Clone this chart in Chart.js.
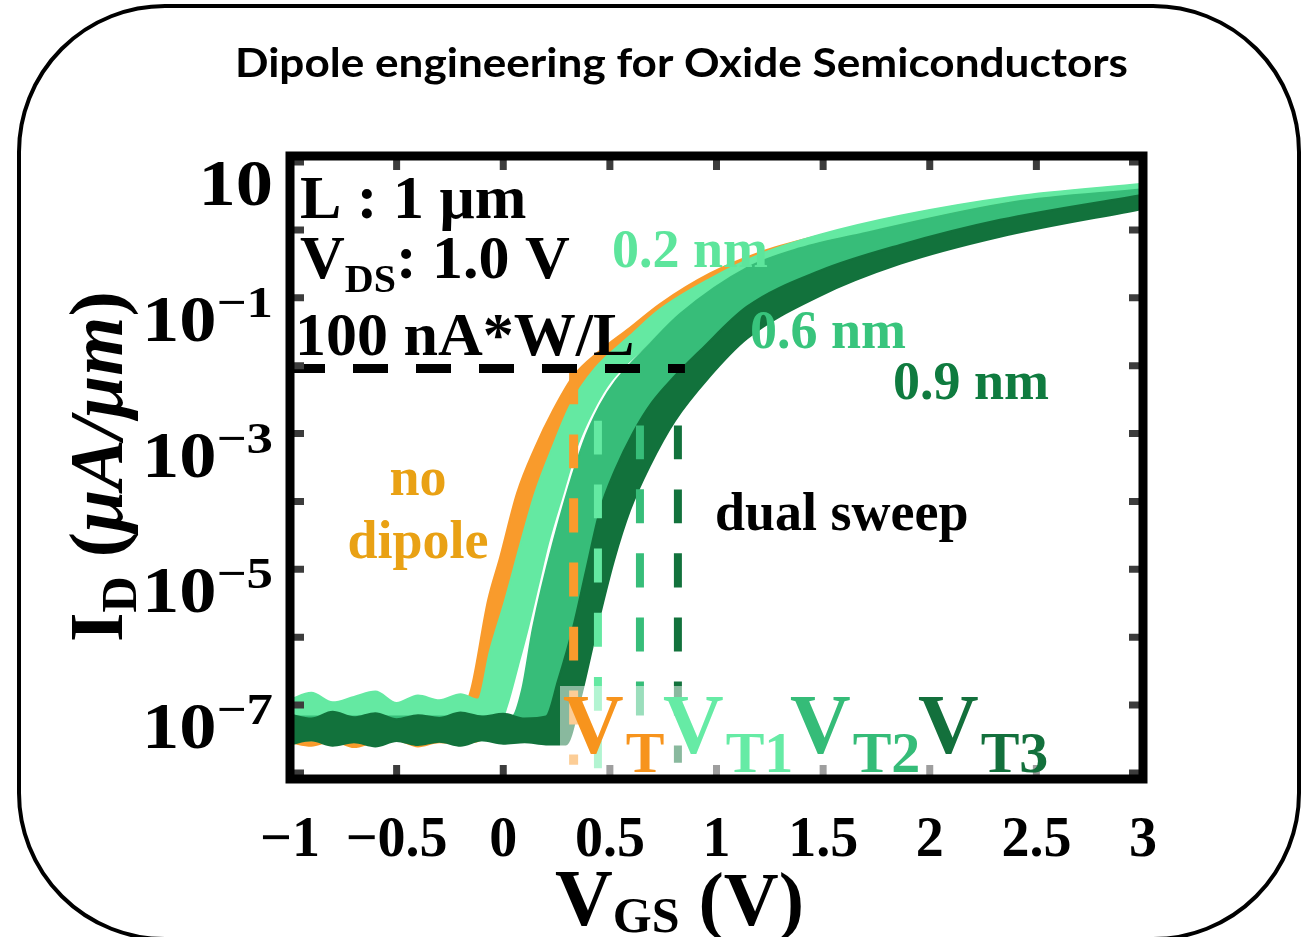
<!DOCTYPE html>
<html>
<head>
<meta charset="utf-8">
<script src="https://cdn.jsdelivr.net/npm/chart.js@4.4.0/dist/chart.umd.min.js"></script>
<style>
html, body { margin: 0; padding: 0; background: #ffffff; }
canvas { display: block; }
</style>
</head>
<body>
<canvas id="ivChart" width="1301" height="937"></canvas>
<script>
// transfer curves, V_GS in volts, log10 of I_D in uA/um
// each device is a dual sweep band: upper/left edge (fwd) and lower/right edge (rev)
const vgsNoDipoleFwd = [-1.0, -0.9, -0.8, -0.7, -0.6, -0.5, -0.4, -0.3, -0.2028, -0.1512, -0.0715, -0.0152, 0.0645, 0.1489, 0.2333, 0.3271, 0.4537, 0.5944, 0.7351, 0.9695, 1.204, 1.4854, 1.8605, 2.3904, 3.0];
const logIdNoDipoleFwd = [-7.10, -7.05, -7.12, -7.08, -7.14, -7.06, -7.11, -7.09, -7.11, -6.78, -5.46, -4.83, -3.88, -3.21, -2.66, -2.16, -1.78, -1.44, -1.09, -0.64, -0.33, -0.08, 0.20, 0.48, 0.67];
const vgsNoDipoleRev = [-1.0, -0.9, -0.8, -0.7, -0.6, -0.5, -0.4, -0.3, -0.2, -0.109, -0.0809, -0.0152, 0.0692, 0.1583, 0.2427, 0.3271, 0.4302, 0.5944, 0.7351, 0.9695, 1.204, 1.4854, 1.8605, 2.3904, 3.0];
const logIdNoDipoleRev = [-7.55, -7.60, -7.53, -7.62, -7.54, -7.52, -7.61, -7.55, -7.56, -7.52, -7.08, -5.86, -4.90, -3.88, -3.18, -2.56, -2.16, -1.67, -1.29, -0.84, -0.48, -0.19, 0.09, 0.37, 0.56];

const vgs02Fwd = [-1.0, -0.9, -0.8, -0.7, -0.6, -0.5, -0.4, -0.3, -0.2, -0.1184, -0.0621, 0.0082, 0.0785, 0.1489, 0.2333, 0.3177, 0.4302, 0.5944, 0.7351, 0.9695, 1.204, 1.4854, 1.8605, 2.3904, 3.0];
const logId02Fwd = [-6.92, -6.82, -6.96, -6.88, -6.80, -6.97, -6.86, -6.93, -6.84, -6.92, -6.20, -5.46, -4.65, -3.88, -3.18, -2.56, -2.04, -1.56, -1.17, -0.72, -0.36, -0.07, 0.21, 0.49, 0.68];
const vgs02Rev = [-1.0, -0.6, -0.2, -0.0152, 0.0176, 0.0692, 0.1161, 0.1629, 0.2098, 0.2802, 0.3505, 0.4255, 0.5053, 0.6647, 0.8288, 1.143, 1.3916, 1.687, 2.3904, 3.0];
const logId02Rev = [-7.26, -7.26, -7.26, -7.26, -7.01, -6.42, -5.86, -5.24, -4.62, -3.87, -3.15, -2.63, -2.22, -1.72, -1.22, -0.54, -0.25, -0.03, 0.43, 0.62];

const vgs06Fwd = [-1.0, -0.6, -0.2, 0.041, 0.0879, 0.1395, 0.2333, 0.374, 0.4537, 0.5287, 0.6882, 0.8288, 1.143, 1.3916, 1.687, 2.3904, 3.0];
const logId06Fwd = [-7.17, -7.17, -7.17, -7.17, -6.78, -5.86, -4.62, -3.15, -2.59, -2.22, -1.68, -1.24, -0.56, -0.27, -0.05, 0.41, 0.60];
const vgs06Rev = [-1.0, -0.6, -0.2, 0.1, 0.2661, 0.3224, 0.3834, 0.51, 0.6647, 0.8523, 1.204, 1.687, 2.3904, 3.0];
const logId06Rev = [-7.52, -7.52, -7.52, -7.52, -7.52, -6.79, -5.86, -4.13, -2.99, -2.18, -1.13, -0.42, 0.11, 0.43];

const vgs09Fwd = [-1.0, -0.9, -0.8, -0.7, -0.6, -0.5, -0.4, -0.3, -0.2, -0.1, 0.0, 0.1, 0.2005, 0.2567, 0.3271, 0.388, 0.4537, 0.524, 0.6084, 0.6975, 0.796, 0.9226, 1.143, 1.4854, 1.8605, 2.3294, 3.0];
const logId09Fwd = [-7.14, -7.20, -7.10, -7.18, -7.12, -7.21, -7.15, -7.19, -7.11, -7.17, -7.13, -7.20, -7.17, -6.64, -5.86, -5.02, -4.13, -3.54, -2.99, -2.54, -2.18, -1.78, -1.13, -0.60, -0.22, 0.15, 0.52];
const vgs09Rev = [-1.0, -0.9, -0.8, -0.7, -0.6, -0.5, -0.4, -0.3, -0.2, -0.1, 0.0, 0.1, 0.2, 0.2943, 0.3599, 0.4396, 0.5193, 0.5944, 0.6882, 0.8054, 0.9625, 1.143, 1.4854, 1.8605, 2.3294, 3.0];
const logId09Rev = [-7.58, -7.52, -7.60, -7.55, -7.61, -7.53, -7.59, -7.54, -7.60, -7.52, -7.57, -7.55, -7.58, -7.58, -6.93, -5.86, -4.87, -4.13, -3.47, -2.81, -2.18, -1.60, -0.97, -0.50, -0.10, 0.31];

// threshold voltages and the span of their dashed markers (log10 I_D)
const vtLabels = ['T', 'T1', 'T2', 'T3'];
const vtVolts = [0.33, 0.444, 0.641, 0.819];
const vtTopLog = [-2.07, -2.81, -2.88, -2.88];
const vtBottomLog = [-7.88, -7.93, -7.18, -7.85];

// 100 nA*W/L criterion line
const criterionLog = -2.04;
const criterionVgs = [-1.0, 0.852];

const xTicks = [-1, -0.5, 0, 0.5, 1, 1.5, 2, 2.5, 3];
const yDecades = [-8, -7, -6, -5, -4, -3, -2, -1, 0, 1];
const yLabelExps = [1, -1, -3, -5, -7];

const colorOrange = '#f99b2c';
const colorLight = '#64e9a2';
const colorMedium = '#37bd79';
const colorDark = '#12723c';

const toPoints = (vgs, logs) => vgs.map((v, i) => ({ x: v, y: Math.pow(10, logs[i]) }));

const band = (vgsF, logF, vgsR, logR, color, order) => [{
    data: toPoints(vgsF, logF),
    borderColor: color,
    backgroundColor: color,
    borderWidth: 2,
    fill: '+1',
    order: order
}, {
    data: toPoints(vgsR, logR),
    borderColor: color,
    backgroundColor: color,
    borderWidth: 2,
    fill: false,
    order: order
}];

const vtColors = [colorOrange, colorLight, colorMedium, colorDark];

const vtLines = vtVolts.map((v, i) => ({
    data: [{ x: v, y: Math.pow(10, vtTopLog[i]) }, { x: v, y: Math.pow(10, vtBottomLog[i]) }],
    borderColor: vtColors[i],
    borderWidth: i === 0 ? 9 : 8,
    borderDash: [34, 30],
    borderCapStyle: 'butt',
    fill: false,
    order: 0
}));

const criterionLine = {
    data: criterionVgs.map(v => ({ x: v, y: Math.pow(10, criterionLog) })),
    borderColor: '#000000',
    borderWidth: 9,
    borderDash: [35, 28],
    borderCapStyle: 'butt',
    fill: false,
    order: 0
};

const serif = (size, style) => `${style || 'bold'} ${size}px "Liberation Serif", "Times New Roman", serif`;

// draws text, optionally stretched sideways, returns the advance width
const drawText = (ctx, s, x, y, font, color, align, sx) => {
    sx = sx || 1;
    ctx.save();
    ctx.font = font;
    ctx.fillStyle = color;
    ctx.textAlign = align || 'left';
    ctx.textBaseline = 'alphabetic';
    ctx.translate(x, y);
    ctx.scale(sx, 1);
    ctx.fillText(s, 0, 0);
    const w = ctx.measureText(s).width * sx;
    ctx.restore();
    return w;
};

const measure = (ctx, s, font) => {
    ctx.font = font;
    return ctx.measureText(s).width;
};

const decor = {
    id: 'decor',
    beforeDraw: (chart) => {
        const ctx = chart.ctx;
        ctx.save();
        ctx.fillStyle = '#ffffff';
        ctx.fillRect(0, 0, chart.width, chart.height);

        // rounded outer frame
        ctx.strokeStyle = '#000000';
        ctx.lineWidth = 4;
        ctx.beginPath();
        ctx.roundRect(19, 6, 1280, 933, 146);
        ctx.stroke();
        ctx.restore();

        // title, squeezed to the width of the original
        const titleFont = 'bold 40px Lato, "Open Sans", sans-serif';
        const title = 'Dipole engineering for Oxide Semiconductors';
        const w = measure(ctx, title, titleFont);
        drawText(ctx, title, 681.5, 77, titleFont, '#000000', 'center', 893 / w);
    },
    afterDatasetsDraw: (chart) => {
        const ctx = chart.ctx;
        const area = chart.chartArea;
        const xs = chart.scales.x;
        const ys = chart.scales.y;
        ctx.save();

        // inward tick marks
        ctx.strokeStyle = '#3c3c3c';
        ctx.lineWidth = 7;
        yDecades.forEach(d => {
            const py = ys.getPixelForValue(Math.pow(10, d));
            ctx.beginPath();
            ctx.moveTo(area.left, py); ctx.lineTo(area.left + 14, py);
            ctx.moveTo(area.right, py); ctx.lineTo(area.right - 14, py);
            ctx.stroke();
        });
        xTicks.forEach(v => {
            const px = xs.getPixelForValue(v);
            ctx.beginPath();
            ctx.moveTo(px, area.top); ctx.lineTo(px, area.top + 14);
            ctx.moveTo(px, area.bottom); ctx.lineTo(px, area.bottom - 14);
            ctx.stroke();
        });

        // translucent box behind the V_T labels
        ctx.fillStyle = 'rgba(255,255,255,0.5)';
        ctx.fillRect(560, 686, 490, 89);

        // plot frame
        ctx.strokeStyle = '#000000';
        ctx.lineWidth = 9;
        ctx.strokeRect(area.left, area.top, area.right - area.left, area.bottom - area.top);

        // y tick labels 10^n
        const baseSx = 1.13, supSx = 1.2;
        yLabelExps.forEach(e => {
            const py = ys.getPixelForValue(Math.pow(10, e));
            const sup = e === 1 ? '' : '\u2212' + Math.abs(e);
            const supW = sup ? measure(ctx, sup, serif(44)) * supSx : 0;
            const baseW = measure(ctx, '10', serif(66)) * baseSx;
            const right = 273;
            drawText(ctx, '10', right - supW - baseW, py + 43, serif(66), '#000', 'left', baseSx);
            if (sup) drawText(ctx, sup, right - supW, py + 19, serif(44), '#000', 'left', supSx);
        });

        // x tick labels
        xTicks.forEach(v => {
            const s = v < 0 ? '\u2212' + Math.abs(v) : String(v);
            drawText(ctx, s, xs.getPixelForValue(v), 856, serif(56), '#000', 'center');
        });

        // x title: V_GS (V)
        let cx = 555;
        cx += drawText(ctx, 'V', cx, 925, serif(80), '#000');
        cx += drawText(ctx, 'GS', cx, 932, serif(50), '#000');
        drawText(ctx, ' (V)', cx, 925, serif(76), '#000');

        // y title: I_D (uA/um), rotated
        ctx.save();
        ctx.translate(122, 642);
        ctx.rotate(-Math.PI / 2);
        let ty = 0;
        ty += drawText(ctx, 'I', ty, 0, serif(76), '#000');
        ty += drawText(ctx, 'D', ty, 14, serif(50), '#000');
        ty += drawText(ctx, ' (', ty, 0, serif(76), '#000');
        ty += drawText(ctx, '\u03bcA/\u03bcm', ty, 0, serif(76, 'italic bold'), '#000');
        drawText(ctx, ')', ty, 0, serif(76), '#000');
        ctx.restore();

        // conditions
        drawText(ctx, 'L : 1 \u03bcm', 300, 218, serif(62), '#000');
        let ax = 300;
        ax += drawText(ctx, 'V', ax, 278, serif(62), '#000');
        ax += drawText(ctx, 'DS', ax, 292, serif(40), '#000');
        drawText(ctx, ': 1.0 V', ax, 278, serif(62), '#000');
        drawText(ctx, '100 nA*W/L', 295, 355, serif(62), '#000');

        // curve labels
        drawText(ctx, '0.2 nm', 612, 267, serif(54), '#5de59c');
        drawText(ctx, '0.6 nm', 750, 348, serif(54), '#38c47c');
        drawText(ctx, '0.9 nm', 893, 399, serif(54), '#0f7b3f');
        drawText(ctx, 'no', 418, 495, serif(54), '#e9a114', 'center');
        drawText(ctx, 'dipole', 418, 558, serif(54), '#e9a114', 'center');
        drawText(ctx, 'dual sweep', 715, 530, serif(54), '#000');

        // V_T labels
        const vtLeft = [563, 663, 790, 918];
        const vtTextColors = ['#f7941d', '#66eba5', '#35bc78', '#13703c'];
        vtLabels.forEach((s, i) => {
            const w = drawText(ctx, 'V', vtLeft[i], 753, serif(84), vtTextColors[i]);
            drawText(ctx, s, vtLeft[i] + w + 2, 772, serif(58), vtTextColors[i]);
        });

        ctx.restore();
    }
};

const ivChart = new Chart(document.getElementById('ivChart').getContext('2d'), {
    type: 'line',
    data: {
        datasets: [
            criterionLine,
            ...vtLines,
            ...band(vgs09Fwd, logId09Fwd, vgs09Rev, logId09Rev, colorDark, 1),
            ...band(vgs06Fwd, logId06Fwd, vgs06Rev, logId06Rev, colorMedium, 2),
            ...band(vgs02Fwd, logId02Fwd, vgs02Rev, logId02Rev, colorLight, 3),
            ...band(vgsNoDipoleFwd, logIdNoDipoleFwd, vgsNoDipoleRev, logIdNoDipoleRev, colorOrange, 4)
        ]
    },
    options: {
        responsive: false,
        maintainAspectRatio: false,
        animation: false,
        devicePixelRatio: 1,
        layout: { padding: { left: 290, right: 158, top: 156, bottom: 158 } },
        elements: {
            point: { radius: 0 },
            line: { cubicInterpolationMode: 'monotone' }
        },
        scales: {
            x: { type: 'linear', min: -1, max: 3, display: false },
            y: { type: 'logarithmic', min: Math.pow(10, -8.09), max: Math.pow(10, 1.09), display: false }
        },
        plugins: {
            legend: { display: false },
            tooltip: { enabled: false },
            title: { display: false }
        }
    },
    plugins: [decor]
});
</script>
</body>
</html>
